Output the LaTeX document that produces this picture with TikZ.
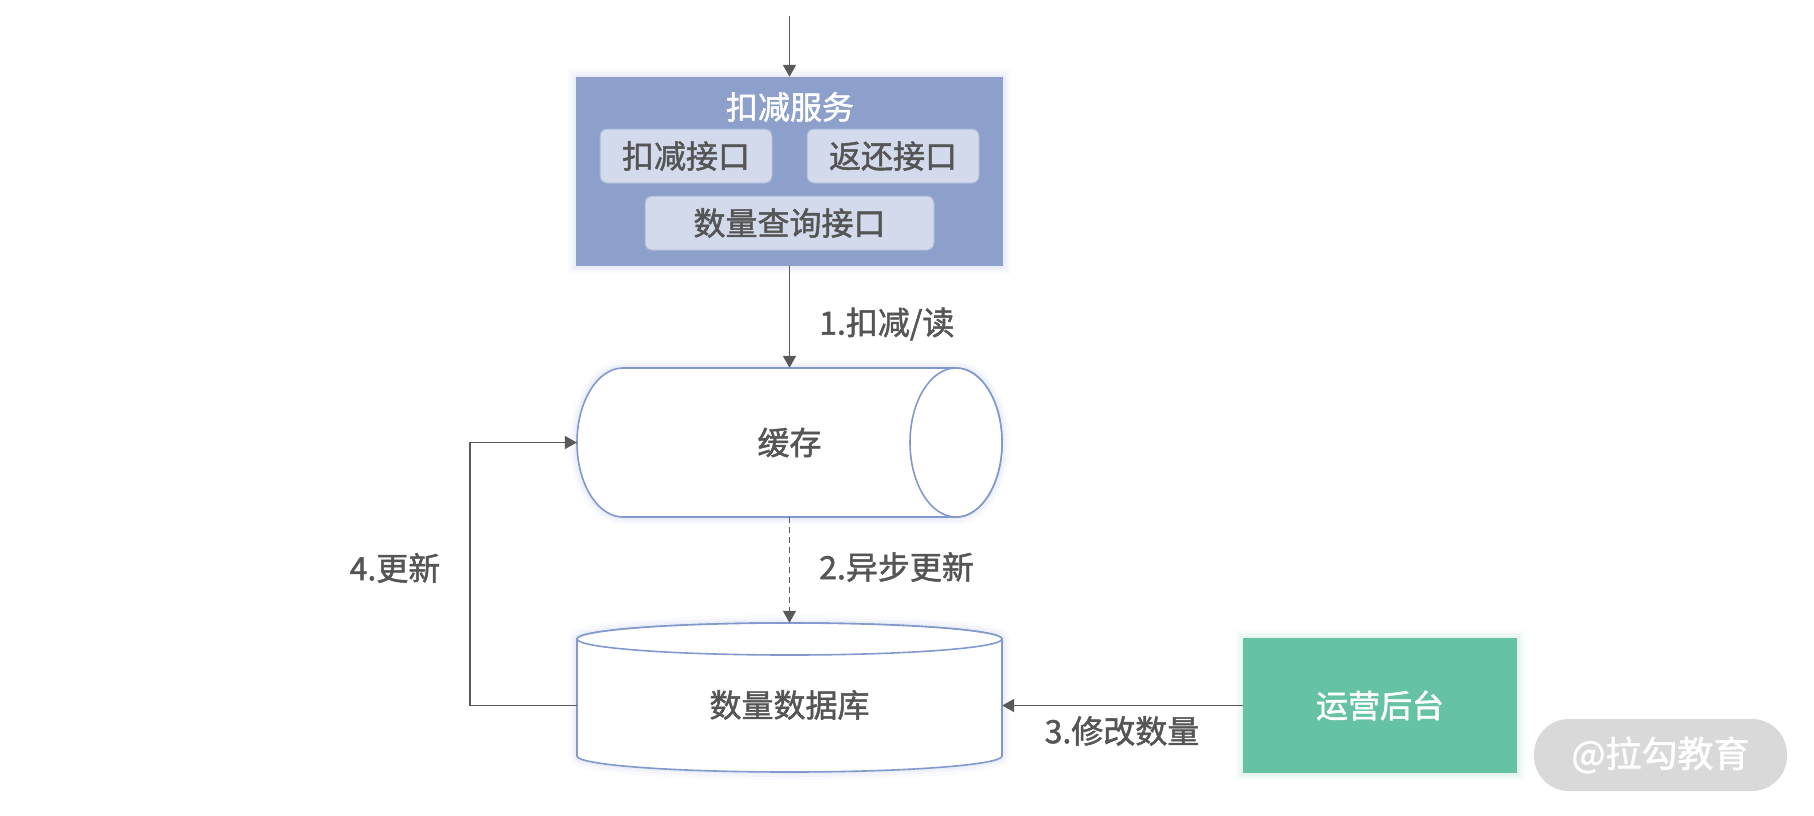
\documentclass[tikz,border=0pt]{standalone}
\usepackage{fontspec}
\setmainfont{Noto Sans CJK SC}
\newfontfamily\medfont{Noto Sans CJK SC}[FakeBold=1.5]
\usetikzlibrary{arrows.meta}
\definecolor{linec}{HTML}{595959}
\definecolor{txtc}{HTML}{555555}
\definecolor{svcfill}{HTML}{8CA0CB}
\definecolor{boxfill}{HTML}{D3DAEB}
\definecolor{boxline}{HTML}{AAB8D8}
\definecolor{cylline}{HTML}{8199CC}
\definecolor{glowc}{HTML}{7F95D0}
\definecolor{opsfill}{HTML}{66C2A5}
\definecolor{wmfill}{HTML}{D9D9D9}
\tikzset{
  glow/.style={preaction={draw=#1,line width=16pt,opacity=0.04},
               preaction={draw=#1,line width=10pt,opacity=0.06},
               preaction={draw=#1,line width=5pt,opacity=0.08}},
  txt/.style={font=\medfont\fontsize{32}{38}\selectfont, text=txtc, inner sep=0pt},
  svcbox/.style={rectangle, fill=svcfill, glow=glowc, minimum width=427pt, minimum height=189pt, inner sep=0pt},
  ibox/.style={rectangle, rounded corners=7pt, fill=boxfill, draw=boxline, line width=1pt, minimum height=54pt, txt},
  arr/.style={draw=linec, line width=1.8pt, -{Triangle[width=13pt,length=12pt]}},
  cyl/.style={draw=cylline, line width=1.6pt, fill=white},
  lbl/.style={txt, anchor=west},
}
\begin{document}
\begin{tikzpicture}[x=1pt,y=-1pt]
\useasboundingbox (0,0) rectangle (1814,815);
% service box
\node[svcbox] (svc) at (789.5,171.5) {};
\node[txt, text=white] (title) at (790,107) {扣减服务};
\node[ibox, minimum width=172pt] (b1) at (686,156) {扣减接口};
\node[ibox, minimum width=172pt] (b2) at (893,156) {返还接口};
\node[ibox, minimum width=289pt] (b3) at (789.5,223) {数量查询接口};
\coordinate (top) at (789.5,16);
% cache cylinder (horizontal)
\path[glow=glowc] (956,368) -- (623,368) arc[start angle=90, end angle=270, x radius=46pt, y radius=74.5pt] -- (956,517) arc[start angle=270, end angle=450, x radius=46pt, y radius=74.5pt] -- cycle;
\draw[cyl] (956,368) -- (623,368) arc[start angle=90, end angle=270, x radius=46pt, y radius=74.5pt] -- (956,517) arc[start angle=270, end angle=450, x radius=46pt, y radius=74.5pt] -- cycle;
\draw[cyl] (956,442.5) ellipse [x radius=46pt, y radius=74.5pt];
\node[txt, minimum width=425pt, minimum height=149pt] (cache) at (789.5,442.5) {缓存};
% database cylinder (vertical)
\path[glow=glowc] (577,639) -- (577,756) arc[start angle=180, end angle=360, x radius=212.5pt, y radius=16pt] -- (1002,639) arc[start angle=0, end angle=180, x radius=212.5pt, y radius=16pt] -- cycle;
\draw[cyl] (577,639) -- (577,756) arc[start angle=180, end angle=360, x radius=212.5pt, y radius=16pt] -- (1002,639) arc[start angle=0, end angle=180, x radius=212.5pt, y radius=16pt] -- cycle;
\draw[cyl] (789.5,639) ellipse [x radius=212.5pt, y radius=16pt];
\node[txt, minimum width=425pt, minimum height=164pt] (db) at (789.5,705) {数量数据库};
% ops box
\node[rectangle, fill=opsfill, glow=opsfill, minimum width=274pt, minimum height=135pt, txt, text=white] (ops) at (1380,705.5) {运营后台};
% watermark
\node[rectangle, rounded corners=35pt, fill=wmfill, minimum width=253pt, minimum height=72pt, inner sep=0pt, font=\medfont\fontsize{36}{42}\selectfont, text=white] (wm) at (1660.5,755) {@拉勾教育};
% connectors
\draw[arr] (top) -- (svc.north);
\draw[arr] (svc.south) -- (cache.north);
\draw[arr, dash pattern=on 6pt off 4pt] (cache.south) -- (db.north);
\draw[arr] (ops.west) -- (ops.west -| db.east);
\draw[arr] (ops.west -| db.west) -- ++(-107,0) |- (cache.west);
% labels
\node[lbl] (l1) at (819,324) {1.扣减/读};
\node[lbl] (l2) at (819,567) {2.异步更新};
\node[txt] (l3) at (1122,731) {3.修改数量};
\node[txt] (l4) at (395,568) {4.更新};
\end{tikzpicture}
\end{document}
